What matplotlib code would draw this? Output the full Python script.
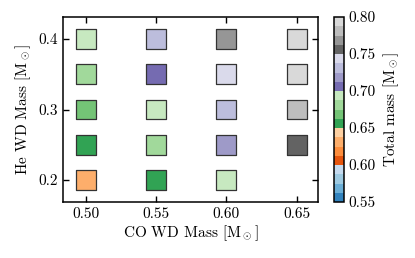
import numpy as np
import matplotlib
matplotlib.use("Agg")
import matplotlib.pyplot as plt

plt.rcParams["font.family"] = "serif"
plt.rcParams["font.serif"] = ["cmr10", "DejaVu Serif"]
plt.rcParams["mathtext.fontset"] = "cm"
plt.rcParams["axes.formatter.use_mathtext"] = True
plt.rcParams["font.size"] = 11

# grid of simulated binaries (CO WD mass, He WD mass) and colour value
co_mass = [0.50, 0.50, 0.50, 0.50, 0.50,
           0.55, 0.55, 0.55, 0.55, 0.55,
           0.60, 0.60, 0.60, 0.60, 0.60,
           0.65, 0.65, 0.65, 0.65]
he_mass = [0.20, 0.25, 0.30, 0.35, 0.40,
           0.20, 0.25, 0.30, 0.35, 0.40,
           0.20, 0.25, 0.30, 0.35, 0.40,
           0.25, 0.30, 0.35, 0.40]
total_mass = [0.631, 0.656, 0.669, 0.681, 0.694,
              0.656, 0.681, 0.694, 0.706, 0.731,
              0.694, 0.719, 0.731, 0.744, 0.769,
              0.756, 0.781, 0.794, 0.794]

x_ticks = [0.50, 0.55, 0.60, 0.65]
y_ticks = [0.2, 0.3, 0.4]
cbar_ticks = [0.55, 0.60, 0.65, 0.70, 0.75, 0.80]

fig = plt.figure(figsize=(4.15, 2.58), dpi=100)
ax = fig.add_axes([0.152, 0.217, 0.614, 0.717])
cax = fig.add_axes([0.805, 0.217, 0.024, 0.717])

sc = ax.scatter(co_mass, he_mass, c=total_mass, cmap="tab20c", vmin=0.55, vmax=0.80,
                marker="s", s=205, edgecolors="0.2", linewidths=0.9)

ax.set_xlim(0.484, 0.665)
ax.set_ylim(0.169, 0.431)
ax.set_xticks(x_ticks)
ax.set_xticklabels([f"{v:.2f}" for v in x_ticks])
ax.set_yticks(y_ticks)
ax.set_yticklabels([f"{v:.1f}" for v in y_ticks])
ax.tick_params(direction="in", top=True, right=True, length=4.5, width=1)
for s in ax.spines.values():
    s.set_linewidth(1.1)
ax.set_xlabel(r"CO WD Mass [$\mathrm{M}_\odot$]", labelpad=2)
ax.set_ylabel(r"He WD Mass [$\mathrm{M}_\odot$]", labelpad=4)

cb = fig.colorbar(sc, cax=cax)
cb.set_ticks(cbar_ticks)
cb.set_ticklabels([f"{v:.2f}" for v in cbar_ticks])
cb.ax.tick_params(length=0, pad=3)
cb.set_label(r"Total mass [$\mathrm{M}_\odot$]", labelpad=4)
cb.outline.set_linewidth(1.1)

fig.savefig("out.png", dpi=100)
